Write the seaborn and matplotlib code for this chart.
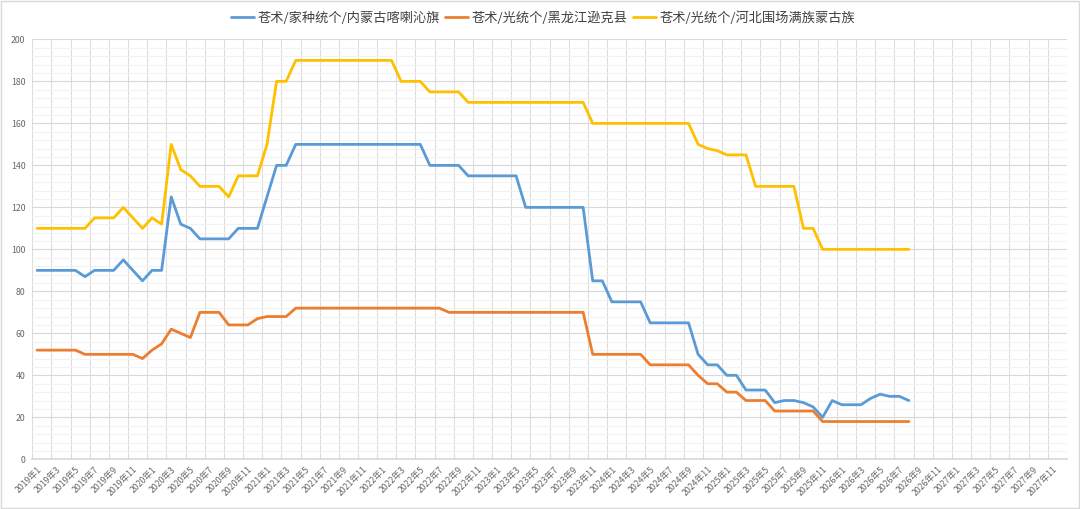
import numpy as np
import pandas as pd
import matplotlib
matplotlib.use('Agg')
import matplotlib.pyplot as plt
from matplotlib.patches import Rectangle
from matplotlib.ticker import MultipleLocator
import seaborn as sns

# 月份 (2019年1 - 2027年12), 只有前92个月有数据
years = list(range(2019, 2028))
months = [f'{y}年{m}' for y in years for m in range(1, 13)]

names = ['苍术/家种统个/内蒙古喀喇沁旗', '苍术/光统个/黑龙江逊克县', '苍术/光统个/河北围场满族蒙古族']
colors = ['#5B9BD5', '#ED7D31', '#FFC000']

neimenggu = [90, 90, 90, 90, 90, 87, 90, 90, 90, 95, 90, 85,
             90, 90, 125, 112, 110, 105, 105, 105, 105, 110, 110, 110,
             125, 140, 140, 150, 150, 150, 150, 150, 150, 150, 150, 150,
             150, 150, 150, 150, 150, 140, 140, 140, 140, 135, 135, 135,
             135, 135, 135, 120, 120, 120, 120, 120, 120, 120, 85, 85,
             75, 75, 75, 75, 65, 65, 65, 65, 65, 50, 45, 45,
             40, 40, 33, 33, 33, 27, 28, 28, 27, 25, 20, 28,
             26, 26, 26, 29, 31, 30, 30, 28]

heilongjiang = [52, 52, 52, 52, 52, 50, 50, 50, 50, 50, 50, 48,
                52, 55, 62, 60, 58, 70, 70, 70, 64, 64, 64, 67,
                68, 68, 68, 72, 72, 72, 72, 72, 72, 72, 72, 72,
                72, 72, 72, 72, 72, 72, 72, 70, 70, 70, 70, 70,
                70, 70, 70, 70, 70, 70, 70, 70, 70, 70, 50, 50,
                50, 50, 50, 50, 45, 45, 45, 45, 45, 40, 36, 36,
                32, 32, 28, 28, 28, 23, 23, 23, 23, 23, 18, 18,
                18, 18, 18, 18, 18, 18, 18, 18]

hebei = [110, 110, 110, 110, 110, 110, 115, 115, 115, 120, 115, 110,
         115, 112, 150, 138, 135, 130, 130, 130, 125, 135, 135, 135,
         150, 180, 180, 190, 190, 190, 190, 190, 190, 190, 190, 190,
         190, 190, 180, 180, 180, 175, 175, 175, 175, 170, 170, 170,
         170, 170, 170, 170, 170, 170, 170, 170, 170, 170, 160, 160,
         160, 160, 160, 160, 160, 160, 160, 160, 160, 150, 148, 147,
         145, 145, 145, 130, 130, 130, 130, 130, 110, 110, 100, 100,
         100, 100, 100, 100, 100, 100, 100, 100]

frames = []
for name, vals in zip(names, [neimenggu, heilongjiang, hebei]):
    frames.append(pd.DataFrame({'idx': range(len(vals)), 'price': vals, 'series': name}))
df = pd.concat(frames, ignore_index=True)

sns.set_theme(style='white')
plt.rcParams['font.family'] = ['Noto Sans CJK SC', 'DejaVu Sans']

fig = plt.figure(figsize=(10.8, 5.09), dpi=100)
ax = fig.add_axes([0.0299, 0.0976, 0.958, 0.825])

sns.lineplot(data=df, x='idx', y='price', hue='series', hue_order=names,
             palette=colors, linewidth=2.0, ax=ax)

ax.set_xlim(-0.5, len(months) - 0.5)
ax.set_ylim(0, 200)
ax.set_xlabel('')
ax.set_ylabel('')

ax.set_xticks(range(0, len(months), 2))
ax.set_xticklabels(months[::2], rotation=45, ha='right', rotation_mode='anchor')
ax.set_xticks(np.arange(-0.5, len(months), 2), minor=True)
ax.set_yticks(range(0, 201, 20))
ax.yaxis.set_minor_locator(MultipleLocator(4))

ax.tick_params(axis='both', which='both', length=0, labelsize=6.3, labelcolor='#666666')
ax.tick_params(axis='y', pad=5)
ax.tick_params(axis='x', pad=4)

ax.grid(False)
ax.grid(which='major', axis='y', color='#D9D9D9', linewidth=0.8)
ax.grid(which='minor', axis='y', color='#F2F2F2', linewidth=0.8)
ax.grid(which='minor', axis='x', color='#DDDDDD', linewidth=0.8)
ax.set_axisbelow(True)

for side in ['left', 'right', 'top']:
    ax.spines[side].set_visible(False)
ax.spines['bottom'].set_color('#D9D9D9')

handles, labels = ax.get_legend_handles_labels()
ax.get_legend().remove()
fig.legend(handles, labels, loc='center', bbox_to_anchor=(0.503, 0.965), ncol=3,
           frameon=False, fontsize=9.5, handlelength=1.7, handletextpad=0.3,
           columnspacing=0.4, labelcolor='#404040')

fig.patches.append(Rectangle((0.001, 0.001), 0.998, 0.997, transform=fig.transFigure,
                             fill=False, edgecolor='#D9D9D9', linewidth=1))

fig.savefig('out.png', dpi=100)
